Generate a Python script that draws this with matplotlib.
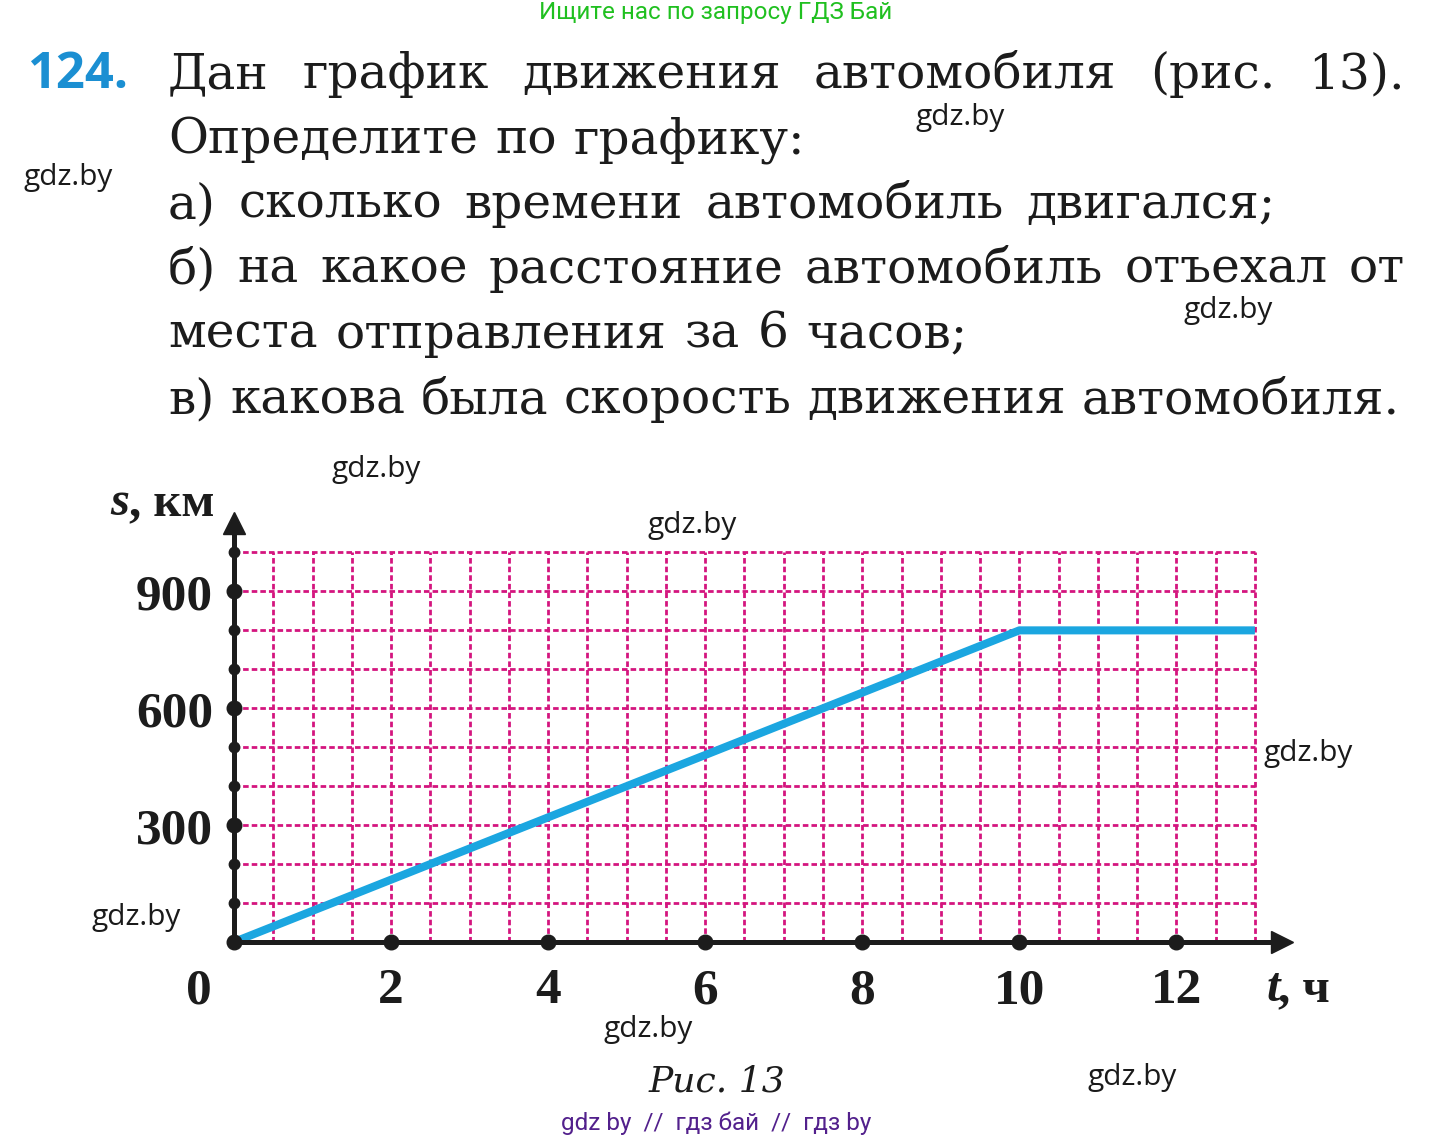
import numpy as np
import matplotlib
matplotlib.use('Agg')
import matplotlib.pyplot as plt
from matplotlib import transforms

W, H = 1433, 1141

# chart data
time_h = [0, 10, 13]
dist_km = [0, 800, 800]
x_tick_vals = [2, 4, 6, 8, 10, 12]
y_tick_vals = [300, 600, 900]
y_small_dots = [100, 200, 400, 500, 700, 800, 1000]
x_grid = np.arange(0.5, 13.01, 0.5)
y_grid = np.arange(100, 1001, 100)

task_lines = [
    "Дан график движения автомобиля (рис. 13).",
    "Определите по графику:",
    "а) сколько времени автомобиль двигался;",
    "б) на какое расстояние автомобиль отъехал от",
    "места отправления за 6 часов;",
    "в) какова была скорость движения автомобиля.",
]
line_right = [1405, 805, 1275, 1405, 968, 1400]

wm_pos = [(960, 118), (68, 178), (1228, 310), (376, 470), (692, 526),
          (1308, 753), (136, 917), (648, 1029), (1132, 1077)]

MAG = '#d4157e'
BLUE = '#1ba6e0'
INK = '#1c1c1c'


def fx(x):
    return x / W


def fy(y):
    return 1 - y / H


fig = plt.figure(figsize=(W / 100, H / 100), dpi=100)
fig.patch.set_facecolor('white')

# ---- header and task text ----
fig.text(fx(716), fy(13), "Ищите нас по запросу ГДЗ Бай", ha='center', va='center',
         family='Roboto', fontsize=17.5, color='#20c020')
fig.text(fx(27), fy(88), "124.", ha='left', va='baseline', family='Open Sans',
         weight='bold', fontsize=36.5, color='#1b8fd2')

body_font = dict(family='DejaVu Serif', fontsize=35, color=INK)
renderer = fig.canvas.get_renderer()
for i, (line, right) in enumerate(zip(task_lines, line_right)):
    words = line.split()
    y = fy(88 + 65 * i)
    objs = [fig.text(0, y, w, ha='left', va='baseline', **body_font) for w in words]
    widths = [o.get_window_extent(renderer).width for o in objs]
    gap = (right - 168 - sum(widths)) / (len(words) - 1)
    x = 168
    for o, w in zip(objs, widths):
        o.set_x(fx(x))
        x += w + gap

# ---- chart ----
ax = fig.add_axes([fx(234), 199 / H, 1068 / W, 428.5 / H])
ax.set_xlim(0, 13.6)
ax.set_ylim(0, 1100)
ax.axis('off')

ax.vlines(x_grid, 0, 1000, colors=MAG, lw=2, linestyles=(0, (2.0, 1.1)), zorder=1)
ax.hlines(y_grid, 0, 13, colors=MAG, lw=2, linestyles=(0, (2.0, 1.1)), zorder=1)

ax.plot(time_h, dist_km, color=BLUE, lw=5.8, solid_capstyle='butt', zorder=3)

# axes with arrows
ax.plot([0, 13.3], [0, 0], color=INK, lw=3.6, solid_capstyle='butt', clip_on=False, zorder=4)
ax.plot([0, 0], [0, 1065], color=INK, lw=3.6, solid_capstyle='butt', clip_on=False, zorder=4)
ax.plot([13.34], [0], marker='>', ms=16, color=INK, clip_on=False, zorder=5)
ax.plot([0], [1076], marker='^', ms=16, color=INK, clip_on=False, zorder=5)

# dots on axes
ax.plot([0] * len(y_small_dots), y_small_dots, 'o', ms=7.5, color=INK, clip_on=False, zorder=5)
ax.plot([0] * len(y_tick_vals), y_tick_vals, 'o', ms=10.5, color=INK, clip_on=False, zorder=5)
ax.plot([0] + x_tick_vals, [0] * (len(x_tick_vals) + 1), 'o', ms=10.5, color=INK,
        clip_on=False, zorder=5)


def off(dx, dy):
    return transforms.offset_copy(ax.transData, fig=fig, x=dx, y=dy, units='dots')


num_font = dict(family='Liberation Serif', weight='bold', fontsize=37, color=INK)
for v in x_tick_vals:
    ax.text(v, 0, str(v), ha='center', va='baseline', transform=off(0, -61),
            clip_on=False, **num_font)
ax.text(0, 0, "0", ha='center', va='baseline', transform=off(-35, -61), clip_on=False, **num_font)
for v in y_tick_vals:
    ax.text(0, v, str(v), ha='right', va='baseline', transform=off(-21, -18.5),
            clip_on=False, **num_font)

# axis names
lab_font = dict(family='Liberation Serif', weight='bold', fontsize=35, color=INK)
fig.text(fx(129), fy(515), "s", ha='right', va='baseline', style='italic', **lab_font)
fig.text(fx(129), fy(515), ", км", ha='left', va='baseline', **lab_font)
fig.text(fx(1280), fy(1001), "t", ha='right', va='baseline', style='italic', **lab_font)
fig.text(fx(1278), fy(1001), ", ч", ha='left', va='baseline', **lab_font)

fig.text(fx(717), fy(1081), "Рис. 13", ha='center', va='center', family='DejaVu Serif',
         style='italic', fontsize=26, color=INK)

# watermarks
for x, y in wm_pos:
    fig.text(fx(x), fy(y), "gdz.by", ha='center', va='center', family='Open Sans',
             fontsize=21.5, color='#1a1a1a')
fig.text(fx(716), fy(1123), "gdz by  //  гдз бай  //  гдз by", ha='center', va='center',
         family='Roboto', fontsize=17.5, color='#52208c')

fig.savefig('out.png', dpi=100)
